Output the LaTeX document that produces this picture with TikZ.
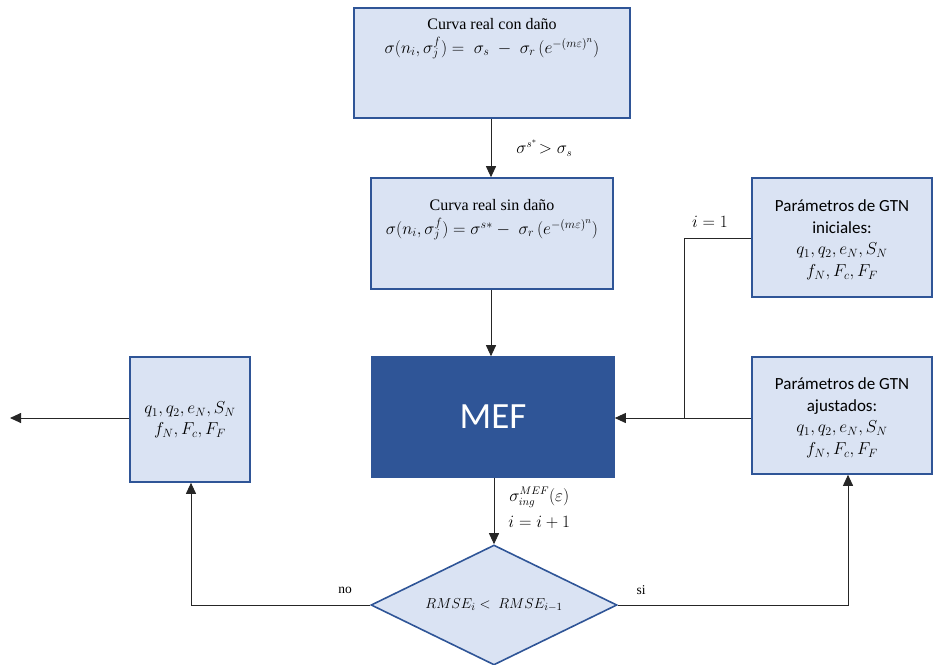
\documentclass[tikz,border=0pt]{standalone}
\usepackage{fontspec}
\setmainfont{Liberation Serif}
\newfontfamily\calib{Carlito}
\usetikzlibrary{shapes.geometric,arrows.meta}
\definecolor{boxfill}{HTML}{DAE3F3}
\definecolor{boxline}{HTML}{2F5597}
\definecolor{wire}{HTML}{262626}
\newcommand{\mth}[1]{{\fontsize{18.5}{21}\selectfont$#1$}}
\begin{document}
\begin{tikzpicture}[x=1pt,y=-1pt,
  lbox/.style={draw=boxline,line width=1.6pt,fill=boxfill,rectangle,inner sep=0pt},
  boxtext/.style={align=center,font=\fontsize{16}{24}\selectfont,inner sep=0pt},
  gtntext/.style={align=center,font=\calib\fontsize{17}{21.5}\selectfont,inner sep=0pt},
  wirestyle/.style={draw=wire,line width=0.9pt},
  arr/.style={wirestyle,-{Triangle[width=10pt,length=11pt]}},
  elabel/.style={font=\fontsize{16}{23}\selectfont,inner sep=0pt,align=center}]
\useasboundingbox (0,0) rectangle (933,664);
% boxes
\node[lbox,minimum width=276pt,minimum height=110pt] (b1) at (492,63) {};
\node[boxtext,anchor=north] (t1) at (492,18) {Curva real con daño\\\mth{\sigma(n_i,\sigma_j^f) =\ \sigma_s\ -\ \sigma_r\,(e^{-(m\varepsilon)^n})}};
\node[lbox,minimum width=242pt,minimum height=111pt] (b2) at (492,233.5) {};
\node[boxtext,anchor=north] (t2) at (492,199) {Curva real sin daño\\\mth{\sigma(n_i,\sigma_j^f) = \sigma^{s*} -\ \sigma_r\,(e^{-(m\varepsilon)^n})}};
\node[lbox,minimum width=180pt,minimum height=119pt] (ini) at (842,237.5) {};
\node[gtntext] (tini) at (842,240) {Parámetros de GTN\\iniciales:\\\mth{q_1,q_2,e_N,S_N}\\\mth{f_N,F_c,F_F}};
\node[lbox,minimum width=180pt,minimum height=117pt] (aju) at (842,415.5) {};
\node[gtntext] (taju) at (842,418) {Parámetros de GTN\\ajustados:\\\mth{q_1,q_2,e_N,S_N}\\\mth{f_N,F_c,F_F}};
\node[draw=boxline,fill=boxline,line width=1.6pt,minimum width=242pt,minimum height=120pt,inner sep=0pt,text=white,font=\calib\fontsize{37}{40}\selectfont] (mef) at (493,417) {MEF};
\node[lbox,minimum width=120pt,minimum height=125pt] (res) at (190,419.5) {};
\node[gtntext] (tres) at (190,420) {\mth{q_1,q_2,e_N,S_N}\\\mth{f_N,F_c,F_F}};
\node[draw=boxline,fill=boxfill,line width=1.6pt,diamond,aspect=2.05,minimum width=246pt,minimum height=120pt,inner sep=0pt,font=\fontsize{15}{18}\selectfont] (dia) at (494,605) {$RMSE_i <\ RMSE_{i-1}$};
% coordinates
\coordinate (out) at (10,418);
\coordinate (c1) at (684,238);
\coordinate (c2) at (684,418);
\coordinate (c3) at (848,605);
\coordinate (c4) at (191,605);
% connectors
\draw[arr] (b1.south -| 491,0) -- (b2.north -| 491,0) node[elabel,midway,right=25pt] {$\sigma^{s^*}\!>\sigma_s$};
\draw[arr] (b2.south -| 491,0) -- (mef.north -| 491,0);
\draw[arr] (mef.south -| 494,0) -- (dia.north) node[elabel,pos=0.45,right=14pt] {$\sigma_{ing}^{MEF}(\varepsilon)$\\[3pt]$i=i+1$};
\draw[wirestyle] (ini.west |- c1) -- (c1) -- (c2);
\node[elabel] (l1) at (710,222) {$i=1$};
\draw[arr] (aju.west |- c2) -- (mef.east |- c2);
\draw[arr] (dia.east) -- (c3) -- (aju.south -| c3);
\node[elabel,font=\fontsize{13.5}{16}\selectfont] (lsi) at (641,590) {si};
\draw[arr] (dia.west) -- (c4) -- (res.south -| c4);
\node[elabel,font=\fontsize{13.5}{16}\selectfont] (lno) at (345,590) {no};
\draw[arr] (res.west |- out) -- (out);
\end{tikzpicture}
\end{document}
